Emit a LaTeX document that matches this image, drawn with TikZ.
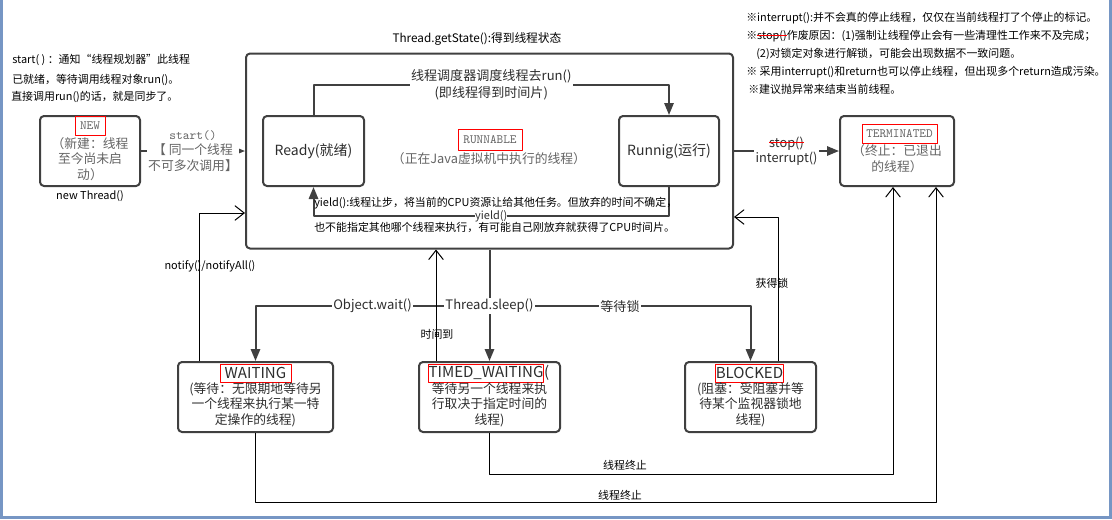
\documentclass[tikz,border=0pt]{standalone}
\usepackage{fontspec}
\setmainfont{Noto Sans CJK SC}
\usetikzlibrary{arrows.meta,calc}

\definecolor{frameblue}{RGB}{118,150,196}
\definecolor{boxline}{RGB}{64,64,64}
\definecolor{softgray}{RGB}{100,100,100}
\definecolor{ink}{RGB}{45,45,45}

\newcommand\fnote{\fontsize{8.2pt}{10pt}\selectfont}
\newcommand\ftitle{\fontsize{8.8pt}{10pt}\selectfont}
\newcommand\flabel{\fontsize{9.8pt}{12.5pt}\selectfont}
\newcommand\fstate{\fontsize{10.5pt}{13pt}\selectfont}
\newcommand\fdesc{\fontsize{9.6pt}{11.6pt}\selectfont}
\newcommand\fsanstag{\fontsize{11.3pt}{13pt}\selectfont}
\newcommand\ftag{\ttfamily\fontsize{9.5pt}{12pt}\selectfont}
\newsavebox\strikebox
\newcommand\redout[1]{\sbox\strikebox{#1}\usebox\strikebox\llap{\textcolor{red}{\rule[0.3em]{\wd\strikebox}{0.6pt}}}}

\tikzset{
  state/.style={draw=boxline, line width=1.5pt, rounded corners=3pt,
                minimum height=70*0.75pt, inner sep=0pt},
  tag/.style={draw=red, line width=0.6pt, inner sep=0pt, text=softgray, font=\ftag},
  sanstag/.style={tag, text=ink, font=\fsanstag},
  desc/.style={align=center, inner sep=0pt, text=softgray, font=\fdesc},
  sansdesc/.style={desc, text=ink},
  note/.style={anchor=west, inner sep=0pt, text=black, font=\fnote},
  flow/.style={draw=boxline, line width=1.5pt,
               -{Triangle[length=9pt,width=7pt]}},
  back/.style={draw=black, line width=0.75pt,
               -{Straight Barb[length=7pt,width=11pt]}},
  cover/.style={fill=white, inner sep=1pt, text=ink, font=\flabel}
}

\begin{document}
\begin{tikzpicture}[x=0.75pt, y=-0.75pt, line join=round]

% frame of the picture
\useasboundingbox (0,0) rectangle (1112,519);
\fill[frameblue] (0,0) rectangle (3,519);
\fill[frameblue] (0,516) rectangle (1112,519);
\fill[frameblue] (1109,0) rectangle (1112,519);

% notes on the left
\node[note] (startnote) at (12,60) {start( ) ：通知“线程规划器”此线程};
\node[note] (readynote) at (12,80) {已就绪，等待调用线程对象run()。};
\node[note] (syncnote) at (11,97) {直接调用run()的话，就是同步了。};

% notes on the right
\node[note] (intnote) at (746,18) {※interrupt():并不会真的停止线程，仅仅在当前线程打了个停止的标记。};
\node[note] (stopnote) at (746,36) {※\redout{stop()}作废原因：(1)强制让线程停止会有一些清理性工作来不及完成；};
\node[note] (locknote) at (756,54) {(2)对锁定对象进行解锁，可能会出现数据不一致问题。};
\node[note] (retnote) at (746,72) {※ 采用interrupt()和return也可以停止线程，但出现多个return造成污染。};
\node[note] (excnote) at (748,89) {※建议抛异常来结束当前线程。};

% draw the states
\node[state, minimum width=100*0.75pt] (new) at (90,151) {};
\node[tag, minimum width=30*0.75pt, minimum height=19*0.75pt] (newtag) at (90,125.5) {NEW};
\node[desc] (newdesc) at (90,159) {（新建：线程\\至今尚未启\\动）};
\node[inner sep=0pt, font=\fnote] (newlbl) at (90,196) {new Thread()};

\node[state, minimum width=487*0.75pt, minimum height=195*0.75pt] (runnable) at (489.5,151) {};
\node[inner sep=0pt, font=\ftitle] (title) at (477,39) {Thread.getState():得到线程状态};
\node[tag, minimum width=64*0.75pt, minimum height=21*0.75pt] (runtag) at (490,139.5) {RUNNABLE};
\node[desc] (rundesc) at (489,159) {（正在Java虚拟机中执行的线程）};

\node[state, minimum width=101*0.75pt, text=ink, font=\fstate] (ready) at (313.5,151) {Ready(就绪)};
\node[state, minimum width=100*0.75pt, text=ink, font=\fstate] (running) at (669,151) {Runnig(运行)};

\node[state, minimum width=114*0.75pt] (terminated) at (897,151) {};
\node[tag, minimum width=75*0.75pt, minimum height=19*0.75pt] (termtag) at (899.5,133.5) {TERMINATED};
\node[desc] (termdesc) at (897,158.5) {（终止：已退出\\的线程）};

\node[state, minimum width=155*0.75pt] (waiting) at (255.5,397) {};
\node[sanstag, minimum width=71*0.75pt, minimum height=18*0.75pt] (waittag) at (255.5,373) {WAITING};
\node[sansdesc] (waitdesc) at (255.5,404.5) {(等待：无限期地等待另\\一个线程来执行某一特\\定操作的线程)};

\node[state, minimum width=141*0.75pt] (timed) at (489.5,397) {};
\node[sanstag, minimum width=114*0.75pt, minimum height=18*0.75pt] (timedtag) at (486,373) {TIMED\_WAITING};
\node[anchor=west, inner sep=0pt, text=ink, font=\fsanstag] (timedparen) at (timedtag.east) {(};
\node[sansdesc] (timeddesc) at (489.5,404.5) {等待另一个线程来执\\行取决于指定时间的\\线程)};

\node[state, minimum width=131*0.75pt] (blocked) at (750.5,397) {};
\node[sanstag, minimum width=65*0.75pt, minimum height=18*0.75pt] (blocktag) at (749.5,373) {BLOCKED};
\node[sansdesc] (blockdesc) at (750.5,404.5) {(阻塞：受阻塞并等\\待某个监视器锁地\\线程)};

% start, stop and scheduling
\draw[flow] (new) -- node[cover, align=center, text=softgray, font=\fdesc] (startlbl)
  {{\ttfamily start()}\\【 同一个线程\\不可多次调用】} (runnable);
\draw[flow] (runnable) -- node[cover, align=center, font=\fdesc] (stoplbl)
  {\redout{stop()}\\interrupt()} (terminated);
\draw[flow] (ready.north) -- ++(0,-30) -| node[pos=0.25, cover, align=center] (schedlbl)
  {线程调度器调度线程去run()\\(即线程得到时间片)} (running.north);
\draw[flow] (running.south) -- ++(0,29) -| node[pos=0.25, cover, inner sep=0pt, font=\fnote] (yieldlbl) {yield()} (ready.south);
\node[note] (yieldnote1) at (314,203) {yield():线程让步，将当前的CPU资源让给其他任务。但放弃的时间不确定，};
\node[note] (yieldnote2) at (314,227) {也不能指定其他哪个线程来执行，有可能自己刚放弃就获得了CPU时间片。};

% draw the ways out of runnable
\coordinate (split) at (489.5,306);
\draw[draw=boxline, line width=1.5pt] (runnable.south) -- (split);
\draw[flow] (split) -| node[pos=0.25, cover] (waitlbl) {Object.wait()} (waiting.north);
\draw[flow] (split) -| node[pos=0.25, cover] (locklbl) {等待锁} (blocked.north);
\draw[flow] (split) -- (timed.north);
\node[cover] (sleeplbl) at (split) {Thread.sleep()};

% draw the ways back
\draw[back] ($(waiting.north west)+(22,0)$) |- ($(runnable.west)+(0,62)$);
\node[inner sep=0pt, font=\fnote] (notifylbl) at (210,266) {notify()/notifyAll()};
\coordinate (timeup) at ($(timed.north west)+(18,0)$);
\draw[back] (timeup) -- (timeup |- runnable.south);
\node[inner sep=0pt, font=\fnote] (timelbl) at (437,334) {时间到};
\draw[back] ($(blocked.north west)+(94,0)$) |- ($(runnable.east)+(0,66)$);
\node[inner sep=0pt, font=\fnote] (gotlbl) at (772,283) {获得锁};

% draw the ends
\draw[back] (timed.south) -- ++(0,41) -| ($(terminated.south west)+(54,0)$);
\node[inner sep=0pt, font=\fnote] (endlbl1) at (625,465) {线程终止};
\draw[back] (waiting.south) -- ++(0,69) -| ($(terminated.south east)+(-19,0)$);
\node[inner sep=0pt, font=\fnote] (endlbl2) at (620,495) {线程终止};

\end{tikzpicture}
\end{document}
